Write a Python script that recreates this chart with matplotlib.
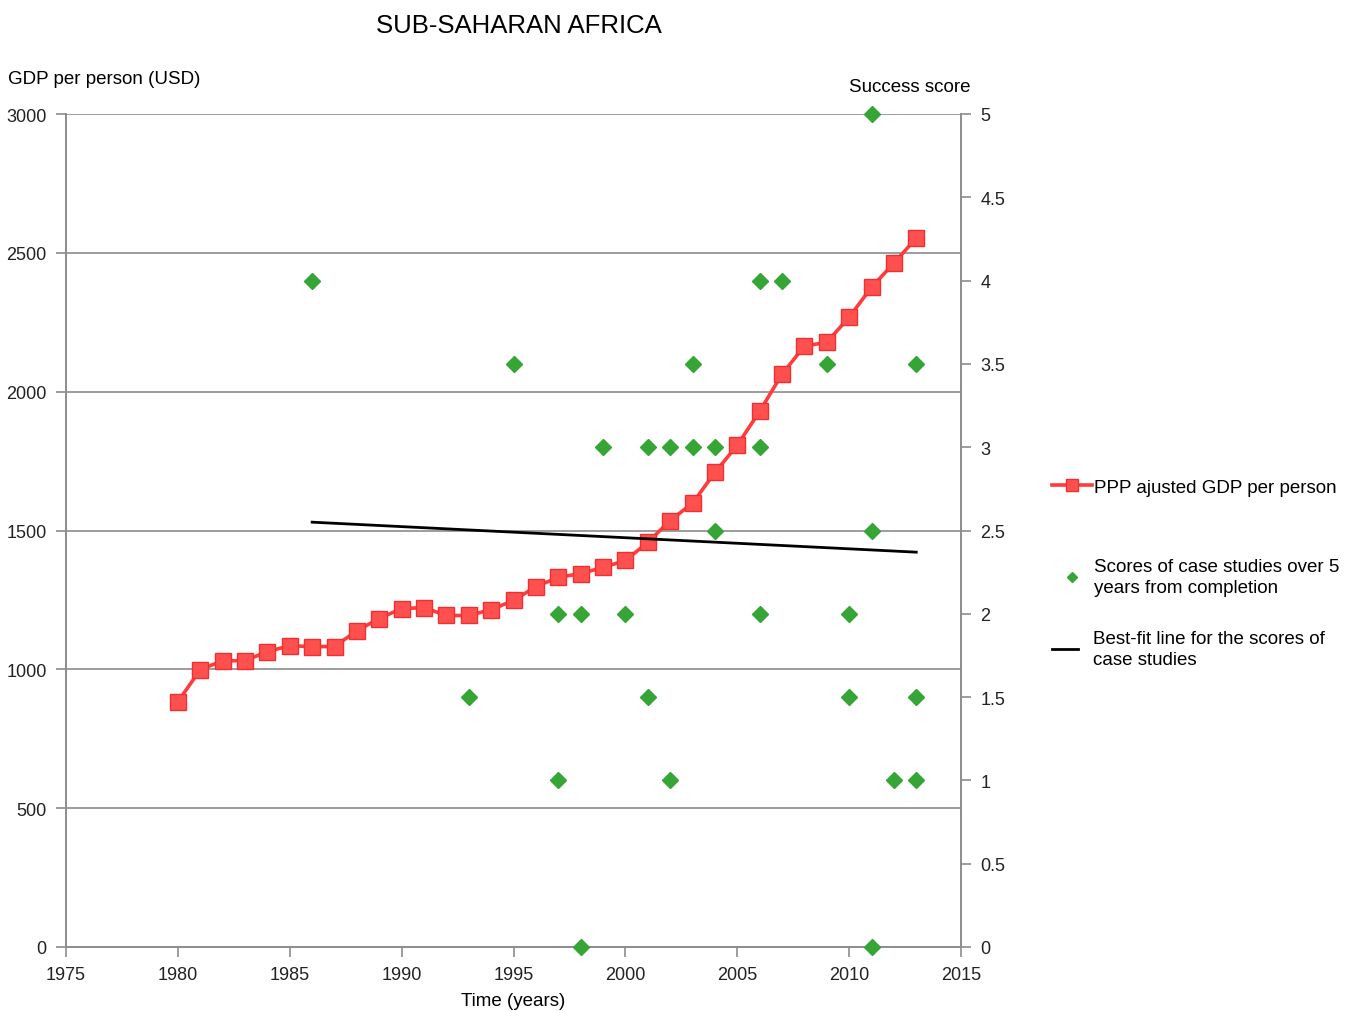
import numpy as np
import matplotlib.pyplot as plt
from matplotlib.lines import Line2D

plt.rcParams['font.family'] = ['Liberation Sans', 'DejaVu Sans']

# GDP per person (PPP adjusted, USD)
years = list(range(1980, 2014))
gdp = [883, 999, 1031, 1031, 1064, 1085, 1082, 1082, 1139, 1183,
       1219, 1222, 1194, 1194, 1215, 1248, 1298, 1331, 1345, 1367,
       1392, 1457, 1536, 1598, 1709, 1807, 1929, 2063, 2164, 2178,
       2268, 2376, 2463, 2553]

# case study scores by completion year
score_years = [1986, 1993, 1995, 1997, 1997, 1998, 1998, 1999, 2000,
               2001, 2001, 2002, 2002, 2003, 2003, 2004, 2004,
               2006, 2006, 2006, 2007, 2009, 2010, 2010,
               2011, 2011, 2011, 2012, 2013, 2013, 2013]
scores = [4, 1.5, 3.5, 2, 1, 2, 0, 3, 2,
          3, 1.5, 3, 1, 3.5, 3, 3, 2.5,
          4, 3, 2, 4, 3.5, 2, 1.5,
          5, 2.5, 0, 1, 3.5, 1.5, 1]

# best-fit line for the scores (end points)
fit_years = [1986, 2013]
fit_scores = [2.55, 2.37]

red = '#ff3b3b'
green = '#35a535'
grey = '#8c8c8c'

fig = plt.figure(figsize=(13.54, 10.12), dpi=100)
ax = fig.add_axes([66 / 1354, 1 - 948 / 1012, 895 / 1354, 833 / 1012])
ax2 = ax.twinx()

ax.plot(years, gdp, color=red, lw=2.6, marker='s', ms=11,
        mfc='#ff5050', mec='#f03030', mew=1, zorder=3)

ax2.plot(fit_years, fit_scores, color='black', lw=2, zorder=2)
ax2.plot(score_years, scores, ls='none', marker='D', ms=8.5, color=green,
         zorder=4, clip_on=False)

ax.set_xlim(1975, 2015)
ax.set_ylim(0, 3000)
ax2.set_ylim(0, 5)
ax.set_xticks(range(1975, 2016, 5))
ax.set_yticks(range(0, 3001, 500))
ax2.set_yticks(np.arange(0, 5.01, 0.5))
ax2.set_yticklabels(['0', '0.5', '1', '1.5', '2', '2.5', '3', '3.5', '4', '4.5', '5'])

ax.yaxis.grid(True, color=grey, lw=1.2)
ax.set_axisbelow(True)
for a in (ax, ax2):
    for s in a.spines.values():
        s.set_color(grey)
        s.set_linewidth(1.2)
    a.spines['top'].set_visible(False)
    a.tick_params(colors=grey, labelcolor='#222222', labelsize=13,
                  length=7, width=1.2, direction='out', pad=7)

ax.set_xlabel('Time (years)', fontsize=13.5, labelpad=6)
fig.text(8 / 1354, 1 - 79 / 1012, 'GDP per person (USD)', fontsize=13.5,
         ha='left', va='center')
fig.text(910 / 1354, 1 - 87 / 1012, 'Success score', fontsize=13.5,
         ha='center', va='center')
fig.text(519 / 1354, 1 - 26 / 1012, 'SUB-SAHARAN AFRICA', fontsize=18.5,
         ha='center', va='center')

# legend entries placed one by one down the right margin
entries = [
    (Line2D([], [], color=red, lw=2.6, marker='s', ms=8.5, mfc='#ff5050', mec='#f03030'),
     'PPP ajusted GDP per person', 488, 2.13, 0.1),
    (Line2D([], [], ls='none', marker='D', ms=5.5, color=green),
     'Scores of case studies over 5\nyears from completion', 578, 2.13, 0.1),
    (Line2D([], [], color='black', lw=2),
     'Best-fit line for the scores of\ncase studies', 650, 1.4, 0.8),
]
for h, lab, ypix, hl, pad in entries:
    leg = fig.legend([h], [lab], loc='center left',
                     bbox_to_anchor=(1052 / 1354, 1 - ypix / 1012),
                     frameon=False, fontsize=13.5, borderpad=0, borderaxespad=0,
                     handlelength=hl, handletextpad=pad)
    for t in leg.get_texts():
        t.set_linespacing(1.25)

fig.savefig('out.png', dpi=100)
